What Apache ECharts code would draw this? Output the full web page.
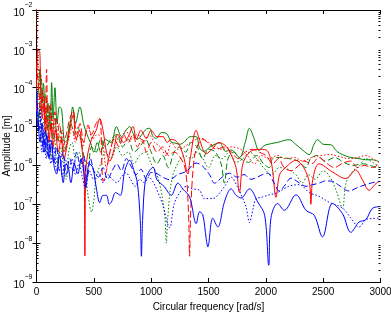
<!DOCTYPE html>
<html>
<head>
<meta charset="utf-8">
<script src="https://cdn.jsdelivr.net/npm/echarts@6/dist/echarts.min.js"></script>
<style>
html,body{margin:0;padding:0;background:#fff;}
#chart{width:391px;height:312px;}
</style>
</head>
<body>
<div id="chart"></div>
<script>
// x ticks
var xTicks = [0, 500, 1000, 1500, 2000, 2500, 3000];
// y decades (log axis)
var yMin = 1e-9, yMax = 1e-2;

// [frequency rad/s, amplitude m]
var blueSolid = [[0,8.5e-5],[15,1.6e-5],[30,4e-6],[50,1.2e-5],[70,2.2e-6],[90,6e-6],[110,1.5e-6],[130,3.8e-6],[155,9e-7],[175,6e-7],[200,1.8e-6],[233,3.6e-7],[255,1.1e-6],[277,9e-7],[300,3.6e-7],[330,1.1e-6],[360,6e-7],[390,1.5e-6],[407,9e-7],[430,2.8e-7],[460,1.1e-6],[490,9e-7],[520,2.8e-7],[552,1.1e-7],[580,1.7e-7],[610,1.7e-7],[635,1e-7],[654,1.15e-7],[690,2e-7],[730,1.7e-7],[770,7.3e-7],[813,1.35e-6],[850,7.3e-7],[880,3.5e-7],[905,3.8e-8],[915,4.6e-9],[925,3.8e-8],[950,4.3e-7],[985,7.3e-7],[1016,9e-7],[1050,4.3e-7],[1080,3.5e-7],[1117,2.8e-7],[1150,2e-7],[1175,1.7e-7],[1233,3.5e-7],[1280,2.4e-7],[1335,1.55e-7],[1393,3.2e-8],[1422,6.4e-8],[1450,5.4e-8],[1480,1.3e-8],[1494,8e-9],[1537,4.4e-8],[1581,2.6e-8],[1639,1.15e-7],[1697,2.5e-7],[1741,1.7e-7],[1784,1.45e-7],[1857,2.5e-7],[1929,1.15e-7],[1990,5.2e-8],[2025,2.7e-9],[2045,4.5e-8],[2103,1.05e-7],[2161,7e-8],[2263,1.75e-7],[2350,7e-8],[2422,5.2e-8],[2494,1.45e-8],[2581,1.05e-7],[2668,5.8e-8],[2741,1.9e-8],[2813,3.5e-8],[2871,4e-8],[2929,7.8e-8],[2987,8.7e-8]];

var blueDashed = [[0,2.5e-5],[20,8e-6],[40,1.6e-5],[60,2.2e-6],[80,8e-6],[100,1.8e-6],[125,4.5e-6],[150,1.1e-6],[175,3e-6],[200,7.3e-7],[230,2.2e-6],[260,5.8e-7],[290,1.5e-6],[320,7.3e-7],[350,2.2e-6],[380,1.1e-6],[410,1.8e-6],[440,4.4e-7],[470,1.5e-6],[500,7.3e-7],[540,5e-7],[580,8.8e-7],[620,4.4e-7],[660,7.3e-7],[700,1.1e-6],[740,7.3e-7],[784,1.5e-6],[830,8.8e-7],[870,5.8e-7],[910,8e-7],[960,4.4e-7],[1000,6.6e-7],[1045,6.3e-7],[1100,5e-7],[1161,4.3e-7],[1230,5.8e-7],[1306,7e-7],[1393,1.15e-6],[1450,9.5e-7],[1509,5.8e-7],[1552,3.5e-7],[1620,5e-7],[1683,6.3e-7],[1750,5e-7],[1810,5.8e-7],[1870,4.4e-7],[1926,5e-7],[1970,5.8e-7],[2016,6.3e-7],[2070,3.6e-7],[2117,2.2e-7],[2170,3.2e-7],[2219,4.7e-7],[2290,3.6e-7],[2350,2.9e-7],[2410,3.2e-7],[2465,3.5e-7],[2520,4e-7],[2581,3.9e-7],[2650,2.9e-7],[2726,2.2e-7],[2800,2.7e-7],[2871,3.2e-7],[2930,3.6e-7],[2987,3.9e-7]];

var blueDotted = [[0,7e-5],[15,8e-6],[30,3.2e-5],[45,2.2e-6],[65,8e-6],[85,1.5e-6],[105,4.5e-6],[125,1.1e-6],[150,3e-6],[175,7.3e-7],[200,2.2e-6],[225,5e-7],[250,1.5e-6],[280,7.3e-7],[310,1.5e-6],[340,5.8e-7],[370,1.1e-6],[400,5e-7],[428,2.4e-7],[460,7.3e-7],[500,4.4e-7],[540,6.5e-7],[580,3.6e-7],[620,5.8e-7],[660,4.4e-7],[700,3.6e-7],[740,5e-7],[780,6.5e-7],[820,4.4e-7],[860,2.9e-7],[900,4.4e-7],[940,3.6e-7],[980,5e-7],[1020,3.6e-7],[1060,2e-7],[1100,1e-7],[1161,2.5e-8],[1200,1e-7],[1250,2e-7],[1306,2.9e-7],[1360,2.5e-7],[1422,2.3e-7],[1465,1.4e-7],[1537,1.4e-7],[1600,2e-7],[1650,3.2e-7],[1697,5e-7],[1750,2.9e-7],[1800,1.4e-7],[1830,8e-8],[1857,3.4e-8],[1890,8e-8],[1914,1.4e-7],[1960,1.5e-7],[2016,1.7e-7],[2100,2e-7],[2200,2.9e-7],[2291,3.2e-7],[2380,2e-7],[2465,1.6e-7],[2560,1.1e-7],[2668,8e-8],[2740,4.5e-8],[2813,2.6e-8],[2871,4e-8],[2930,4.3e-8],[2987,4.4e-8]];

var greenSolid = [[0,4.3e-5],[15,8.5e-5],[30,3e-4],[45,4e-5],[60,1.3e-4],[80,1.2e-5],[100,4e-5],[120,8e-6],[132,1.35e-4],[145,1.6e-5],[161,1e-4],[180,1.2e-5],[200,3.2e-5],[219,2.8e-5],[240,4.7e-6],[260,3.9e-6],[280,8e-6],[300,1.6e-5],[315,3.2e-5],[340,1.2e-5],[378,3.2e-5],[410,1.2e-5],[440,6.3e-6],[470,3.9e-6],[500,2.2e-6],[530,3.9e-6],[560,2.2e-6],[600,4.7e-6],[650,3.9e-6],[697,1e-5],[741,5.5e-6],[780,8e-6],[813,1e-5],[842,6.7e-6],[880,4.7e-6],[920,6.3e-6],[960,8.7e-6],[987,9e-6],[1016,5.5e-6],[1045,5e-6],[1090,7e-6],[1132,6.7e-6],[1175,4e-6],[1204,3.8e-6],[1250,3.5e-6],[1291,4.1e-6],[1340,5.5e-6],[1393,5.5e-6],[1422,2.8e-6],[1460,2.3e-6],[1520,3.1e-6],[1595,3.8e-6],[1650,2.3e-6],[1697,2.5e-6],[1770,1.6e-6],[1820,3.9e-6],[1857,9e-6],[1900,4.7e-6],[1940,2.4e-6],[1972,3e-6],[2002,3.4e-6],[2100,3.9e-6],[2204,4.6e-6],[2260,3.5e-6],[2320,2.5e-6],[2378,1.9e-6],[2420,3.5e-6],[2451,4.6e-6],[2500,3.5e-6],[2567,3.4e-6],[2620,2.3e-6],[2668,1.9e-6],[2740,1.6e-6],[2813,1.5e-6],[2870,1.4e-6],[2929,1.4e-6],[2987,1.25e-6]];

var greenDotted = [[0,2.5e-5],[15,8e-6],[30,4e-5],[45,3.9e-6],[65,1.6e-5],[85,2.2e-6],[105,8e-6],[130,1.5e-6],[155,6.3e-6],[180,1.1e-6],[210,3e-6],[240,7.3e-7],[260,4.4e-7],[280,2.2e-6],[310,3.9e-6],[340,1.5e-6],[370,2.2e-6],[400,8.8e-7],[430,4.4e-7],[455,1.3e-7],[480,6.3e-8],[500,1.3e-7],[520,5e-7],[560,1.1e-6],[600,2.2e-6],[650,1.5e-6],[700,3e-6],[750,1.8e-6],[800,2.2e-6],[850,1.1e-6],[900,1.8e-6],[950,2.2e-6],[1000,1.1e-6],[1050,5.8e-7],[1090,2e-7],[1120,4.5e-8],[1132,1e-8],[1145,4.5e-8],[1180,4.4e-7],[1230,1.1e-6],[1290,1.8e-6],[1350,1.5e-6],[1393,2.2e-6],[1450,1.5e-6],[1500,8.8e-7],[1560,1.8e-6],[1620,1.5e-6],[1680,2.2e-6],[1740,1.2e-6],[1800,1.5e-6],[1860,2.2e-6],[1920,1.5e-6],[1980,8.8e-7],[2050,5.8e-7],[2120,8.8e-7],[2204,7.7e-7],[2260,5.8e-7],[2320,3.6e-7],[2370,5.8e-7],[2430,4.4e-7],[2500,7.3e-7],[2560,5e-7],[2620,2e-7],[2668,7.8e-8],[2700,3.6e-7],[2760,7.3e-7],[2813,9.5e-7],[2870,1.5e-6],[2930,1.2e-6],[2987,9.5e-7]];

var greenDashed = [[0,6.8e-5],[20,1.6e-5],[40,2.1e-4],[60,2.4e-5],[80,6.8e-5],[100,8e-6],[120,3.2e-5],[140,4.7e-6],[160,1.6e-5],[185,3.9e-6],[210,8e-6],[240,2.2e-6],[270,4.7e-6],[300,1.2e-5],[330,6.3e-6],[360,9.5e-6],[390,3.9e-6],[420,1.5e-6],[450,1.1e-6],[480,3e-6],[520,2.2e-6],[560,4.7e-6],[600,3e-6],[650,4.7e-6],[700,6.3e-6],[750,3e-6],[800,4.7e-6],[850,2.2e-6],[900,3e-6],[950,4.7e-6],[1000,2.2e-6],[1050,1.1e-6],[1100,1.8e-6],[1150,8.8e-7],[1200,2.2e-6],[1250,3e-6],[1300,2.2e-6],[1350,3.9e-6],[1400,3e-6],[1450,1.5e-6],[1500,2.6e-6],[1560,2.2e-6],[1610,1.1e-6],[1639,3.5e-7],[1670,1.5e-6],[1720,2.2e-6],[1780,1.5e-6],[1850,1.2e-6],[1920,1.8e-6],[1980,1.1e-6],[2030,8.8e-7],[2060,1.5e-6],[2120,1.6e-6],[2200,1.5e-6],[2280,1.3e-6],[2350,8.8e-7],[2390,1.5e-6],[2450,1.8e-6],[2520,1.3e-6],[2600,1.6e-6],[2680,1.2e-6],[2760,1e-6],[2850,1.1e-6],[2930,9.5e-7],[2987,8e-7]];

var redSolid = [[0,2.4e-5],[10,9e-4],[25,9e-4],[35,1.7e-4],[50,1.6e-5],[65,4e-5],[80,6.3e-6],[95,1.6e-5],[110,3.9e-6],[125,1.2e-5],[145,3e-6],[165,8e-6],[190,2.2e-6],[215,4.7e-6],[240,1.5e-6],[270,3.9e-6],[300,1.2e-5],[320,2e-5],[345,4.7e-6],[375,8e-6],[400,2.2e-6],[415,7.3e-7],[422,4.7e-9],[430,7.3e-7],[450,2.2e-6],[480,4.7e-6],[520,8e-6],[552,1.6e-5],[580,8e-6],[610,2.2e-6],[639,1.3e-6],[670,2.2e-6],[710,6.3e-6],[760,3.9e-6],[800,5.5e-6],[842,1e-5],[871,4.7e-6],[910,8e-6],[958,5e-6],[1000,8e-6],[1050,5.5e-6],[1103,5.5e-6],[1140,3.9e-6],[1175,4.7e-6],[1230,3.9e-6],[1280,1.8e-6],[1320,6e-7],[1340,1.5e-6],[1393,8e-6],[1422,4.6e-6],[1480,2e-6],[1530,2.6e-6],[1590,3.9e-6],[1654,3.1e-6],[1700,1.8e-6],[1740,8.8e-7],[1770,2e-7],[1800,1.1e-6],[1860,2.2e-6],[1930,2.6e-6],[2002,2.5e-6],[2050,1.1e-6],[2089,1.5e-7],[2120,5.8e-7],[2175,9e-7],[2263,1.35e-6],[2330,8.8e-7],[2380,3.6e-7],[2393,1e-7],[2410,4.4e-7],[2465,1.1e-6],[2581,6.8e-7],[2697,4.6e-7],[2784,7.6e-7],[2840,4.4e-7],[2900,2.3e-7],[2950,3.2e-7],[2987,3.9e-7]];

var redDashed = [[0,4.3e-4],[20,8.5e-5],[40,2.4e-5],[60,6.8e-5],[75,8e-6],[88,3e-4],[100,1.6e-5],[120,4e-5],[140,6.3e-6],[160,2.4e-5],[180,4.7e-6],[200,1.2e-5],[230,3e-6],[260,6.3e-6],[290,1.6e-5],[320,2.6e-5],[350,6.3e-6],[380,1.2e-5],[410,3.9e-6],[450,1.1e-5],[480,6.3e-6],[520,1.2e-5],[552,1.6e-5],[581,3.9e-7],[610,7.3e-7],[640,2.2e-6],[680,4.7e-6],[720,3e-6],[760,6.3e-6],[800,3.9e-6],[840,6.3e-6],[880,3e-6],[920,4.7e-6],[960,2.2e-6],[1000,3.9e-6],[1050,2.2e-6],[1100,3e-6],[1150,1.8e-6],[1200,2.2e-6],[1260,1.5e-6],[1300,7.3e-7],[1325,7e-8],[1335,4.6e-9],[1345,7e-8],[1370,1.1e-6],[1400,3e-6],[1450,4.7e-6],[1510,3.5e-6],[1570,2.6e-6],[1640,3e-6],[1700,2.2e-6],[1760,1.5e-6],[1820,2.2e-6],[1880,2.6e-6],[1940,2.2e-6],[2002,1.8e-6],[2060,1.1e-6],[2110,1.5e-6],[2160,8.8e-7],[2220,7.3e-7],[2280,9.5e-7],[2330,1.3e-6],[2400,1.1e-6],[2460,1.6e-6],[2520,1.2e-6],[2600,8.8e-7],[2660,1.1e-6],[2740,1.3e-6],[2800,8.8e-7],[2860,1e-6],[2930,8.8e-7],[2987,1.1e-6]];

var redDotted = [[0,1e-2],[5,2.8e-3],[12,4.3e-4],[25,1.7e-4],[40,4e-5],[55,8.5e-5],[70,1.6e-5],[90,4.7e-5],[110,1.2e-5],[130,2.4e-5],[150,6.3e-6],[175,1.6e-5],[200,3.9e-6],[225,8e-6],[250,2.2e-6],[280,4.7e-6],[310,9.5e-6],[340,3.9e-6],[370,6.3e-6],[400,3e-6],[450,1e-5],[490,4.7e-6],[530,6.3e-6],[570,4.7e-6],[610,8.8e-7],[640,2.2e-6],[690,5.5e-6],[730,3.9e-6],[780,8e-6],[830,4.7e-6],[880,6.3e-6],[930,3.9e-6],[980,6.3e-6],[1030,3.9e-6],[1080,3e-6],[1130,1.8e-6],[1180,3.9e-6],[1230,2.6e-6],[1290,3e-6],[1340,3.9e-6],[1393,4.7e-6],[1440,5e-6],[1500,3.9e-6],[1560,3e-6],[1620,2.6e-6],[1700,3e-6],[1780,2.6e-6],[1840,1.8e-6],[1900,1.1e-6],[1960,1.8e-6],[2030,1.5e-6],[2100,1.8e-6],[2170,1.5e-6],[2250,1.6e-6],[2320,1.3e-6],[2400,1.6e-6],[2480,1.8e-6],[2560,1.9e-6],[2640,1.7e-6],[2720,1.5e-6],[2800,1.6e-6],[2870,1.8e-6],[2930,1.5e-6],[2987,1.2e-6]];

// minor tick positions for the log axis (2..9 within each decade)
var yMinorTicks = [];
for (var d = -9; d < -2; d++) {
  for (var m = 2; m <= 9; m++) yMinorTicks.push(m * Math.pow(10, d));
}

var FONT = '"Liberation Sans", Arial, sans-serif';
var chart = echarts.init(document.getElementById('chart'), null, {renderer: 'canvas'});

function mk(name, data, color, type) {
  return {
    name: name, type: 'line', data: data, xAxisIndex: 0, yAxisIndex: 0,
    showSymbol: false, symbol: 'none', smooth: 0.35,
    lineStyle: {color: color, width: 1, type: type},
    animation: false, silent: true
  };
}

var axisCommon = {
  axisLine: {show: true, lineStyle: {color: '#000', width: 1}},
  splitLine: {show: false}
};

var option = {
  animation: false,
  backgroundColor: '#fff',
  grid: {left: 36.5, right: 10.5, top: 10, bottom: 30, containLabel: false, outerBoundsMode: 'none'},
  xAxis: [
    Object.assign({}, axisCommon, {
      type: 'value', min: xTicks[0], max: xTicks[xTicks.length - 1], interval: 500,
      position: 'bottom',
      axisTick: {inside: true, length: 4, lineStyle: {color: '#000'}},
      axisLabel: {color: '#000', fontSize: 10, fontFamily: FONT, margin: 5,
        formatter: function (v) { return String(v); }},
      name: 'Circular frequency [rad/s]', nameLocation: 'middle', nameGap: 20,
      nameMoveOverlap: false,
      nameTextStyle: {color: '#000', fontSize: 10, fontFamily: FONT}
    }),
    Object.assign({}, axisCommon, {
      type: 'value', min: xTicks[0], max: xTicks[xTicks.length - 1], interval: 500,
      position: 'top',
      axisTick: {inside: true, length: 4, lineStyle: {color: '#000'}},
      axisLabel: {show: false}
    })
  ],
  yAxis: [
    Object.assign({}, axisCommon, {
      type: 'log', logBase: 10, min: yMin, max: yMax, interval: 1, position: 'left',
      axisTick: {inside: true, length: 4, lineStyle: {color: '#000'}},
      axisLabel: {
        margin: 4, color: '#000', fontFamily: FONT,
        formatter: function (v) {
          var e = Math.round(Math.log10(v));
          return '{b|10}{s|' + (e < 0 ? '\u2212' + (-e) : e) + '}';
        },
        rich: {
          b: {fontSize: 10, fontFamily: FONT, color: '#000', verticalAlign: 'bottom', lineHeight: 16},
          s: {fontSize: 7, fontFamily: FONT, color: '#000', verticalAlign: 'top', lineHeight: 16}
        }
      },
      name: 'Amplitude [m]', nameLocation: 'middle', nameGap: 24, nameRotate: 90,
      nameMoveOverlap: false,
      nameTextStyle: {color: '#000', fontSize: 10, fontFamily: FONT}
    }),
    Object.assign({}, axisCommon, {
      type: 'log', logBase: 10, min: yMin, max: yMax, interval: 1, position: 'right',
      axisTick: {inside: true, length: 4, lineStyle: {color: '#000'}},
      axisLabel: {show: false}
    }),
    {
      type: 'log', logBase: 10, min: yMin, max: yMax, position: 'left',
      axisLine: {show: false}, splitLine: {show: false}, axisLabel: {show: false},
      axisTick: {show: true, inside: true, length: 2, customValues: yMinorTicks, lineStyle: {color: '#000'}}
    },
    {
      type: 'log', logBase: 10, min: yMin, max: yMax, position: 'right',
      axisLine: {show: false}, splitLine: {show: false}, axisLabel: {show: false},
      axisTick: {show: true, inside: true, length: 2, customValues: yMinorTicks, lineStyle: {color: '#000'}}
    }
  ],
  series: [
    mk('Green solid', greenSolid, '#008000', 'solid'),
    mk('Green dashed', greenDashed, '#008000', [6, 3]),
    mk('Green dotted', greenDotted, '#008000', [1.5, 2]),
    mk('Red solid', redSolid, '#ff0000', 'solid'),
    mk('Red dashed', redDashed, '#ff0000', [7, 3]),
    mk('Red dotted', redDotted, '#ff0000', [1.5, 2]),
    mk('Blue solid', blueSolid, '#0000ff', 'solid'),
    mk('Blue dashed', blueDashed, '#0000ff', [6, 3]),
    mk('Blue dotted', blueDotted, '#0000ff', [1.5, 2])
  ]
};
chart.setOption(option);
</script>
</body>
</html>
